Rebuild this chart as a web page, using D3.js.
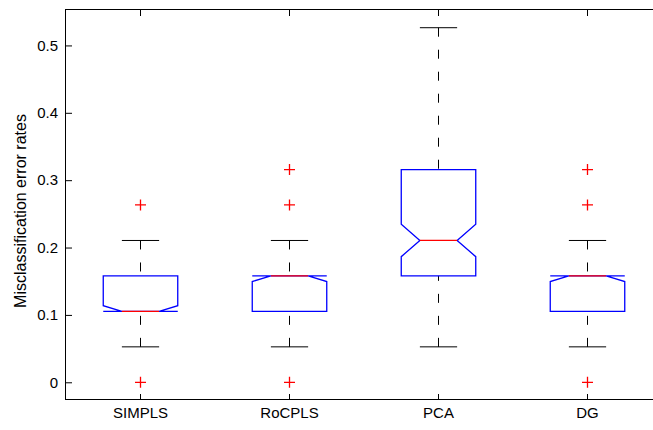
<!DOCTYPE html>
<html>
<head>
<meta charset="utf-8">
<script src="https://cdn.jsdelivr.net/npm/d3@7"></script>
<style>
  body { margin: 0; background: #fff; }
  svg { display: block; font-family: "Liberation Sans", Arial, sans-serif; }
  .axis text { font-size: 15px; fill: #000; }
  .axis path { display: none; }
  .axis line { stroke: #000; }
</style>
</head>
<body>
<div id="chart"></div>
<script>
// Box plot values (multiples of 1/19).
var categories = ["SIMPLS", "RoCPLS", "PCA", "DG"];
var q1Values = [0.1053, 0.1053, 0.1579, 0.1053];
var medianValues = [0.1053, 0.1579, 0.2105, 0.1579];
var q3Values = [0.1579, 0.1579, 0.3158, 0.1579];
var whiskerLow = [0.0526, 0.0526, 0.0526, 0.0526];
var whiskerHigh = [0.2105, 0.2105, 0.5263, 0.2105];
var notchLow = [0.0969, 0.1495, 0.1865, 0.1495];
var notchHigh = [0.1137, 0.1663, 0.2345, 0.1663];
var outliers = [[0.2632, 0], [0.3158, 0.2632, 0], [], [0.3158, 0.2632, 0]];
var yTicks = [0, 0.1, 0.2, 0.3, 0.4, 0.5];
var yDomain = [-0.0263, 0.5526];
var yLabel = "Misclassification error rates";

var width = 653, height = 430;
var plotLeft = 66, plotRight = 662, plotTop = 10, plotBottom = 400;

var svg = d3.select("#chart").append("svg")
  .attr("width", width)
  .attr("height", height);

// Scales.
var xScale = d3.scaleBand().domain(categories).range([plotLeft, plotRight]);
var yScale = d3.scaleLinear().domain(yDomain).range([plotBottom, plotTop]);
var step = xScale.bandwidth();
var boxHalf = step / 4;
var notchHalf = step / 8;

// Axes with inward ticks.
svg.append("g")
  .attr("class", "axis")
  .attr("transform", "translate(" + plotLeft + ",0)")
  .call(d3.axisLeft(yScale).tickValues(yTicks).tickSize(-6).tickPadding(8)
    .tickFormat(function (d) { return d === 0 ? "0" : d3.format(".1f")(d); }));
svg.append("g")
  .attr("class", "axis")
  .attr("transform", "translate(0," + plotBottom + ")")
  .call(d3.axisBottom(xScale).tickSize(-6).tickPadding(7));
svg.append("g")
  .attr("class", "axis")
  .attr("transform", "translate(0," + plotTop + ")")
  .call(d3.axisTop(xScale).tickSize(-6).tickFormat(""));
svg.append("g")
  .attr("class", "axis")
  .attr("transform", "translate(" + plotRight + ",0)")
  .call(d3.axisRight(yScale).tickValues(yTicks).tickSize(-6).tickFormat(""));

// Frame.
svg.append("rect")
  .attr("x", plotLeft - 0.5).attr("y", plotTop - 0.5)
  .attr("width", plotRight - plotLeft).attr("height", plotBottom - plotTop)
  .attr("fill", "none").attr("stroke", "#000").attr("stroke-width", 1);

// Y label.
svg.append("text")
  .attr("transform", "translate(26," + ((plotTop + plotBottom) / 2 + 6) + ")rotate(-90)")
  .attr("text-anchor", "middle")
  .style("font-size", "16px")
  .text(yLabel);

// Boxes.
categories.forEach(function (cat, i) {
  var cx = xScale(cat) + step / 2;
  var g = svg.append("g");
  var yq1 = yScale(q1Values[i]), yq3 = yScale(q3Values[i]), ymed = yScale(medianValues[i]);
  var ynLo = yScale(Math.max(notchLow[i], q1Values[i]));
  var ynHi = yScale(Math.min(notchHigh[i], q3Values[i]));
  var bl = cx - boxHalf, br = cx + boxHalf;
  var nl = cx - notchHalf, nr = cx + notchHalf;

  // Whiskers.
  g.append("line")
    .attr("x1", cx).attr("x2", cx)
    .attr("y1", yScale(whiskerHigh[i])).attr("y2", yq3)
    .attr("stroke", "#000").attr("stroke-dasharray", "9,13");
  g.append("line")
    .attr("x1", cx).attr("x2", cx)
    .attr("y1", yScale(whiskerLow[i])).attr("y2", yq1)
    .attr("stroke", "#000").attr("stroke-dasharray", "9,13");
  [whiskerHigh[i], whiskerLow[i]].forEach(function (v) {
    g.append("line")
      .attr("x1", nl).attr("x2", nr)
      .attr("y1", yScale(v)).attr("y2", yScale(v))
      .attr("stroke", "#000");
  });

  // Notched box.
  var pts = [
    [bl, yq1], [bl, ynLo], [nl, ymed], [bl, ynHi], [bl, yq3],
    [br, yq3], [br, ynHi], [nr, ymed], [br, ynLo], [br, yq1]
  ];
  g.append("path")
    .attr("d", d3.line()(pts) + "Z")
    .attr("fill", "none").attr("stroke", "#0000ff").attr("stroke-width", 1.3);

  // Median.
  g.append("line")
    .attr("x1", nl).attr("x2", nr)
    .attr("y1", ymed).attr("y2", ymed)
    .attr("stroke", "#ff0000").attr("stroke-width", 1.3);

  // Outliers.
  outliers[i].forEach(function (v) {
    var oy = yScale(v);
    g.append("path")
      .attr("d", "M" + (cx - 5.5) + "," + oy + "H" + (cx + 5.5) + "M" + cx + "," + (oy - 5.5) + "V" + (oy + 5.5))
      .attr("stroke", "#ff0000").attr("stroke-width", 1.3).attr("fill", "none");
  });
});
</script>
</body>
</html>
